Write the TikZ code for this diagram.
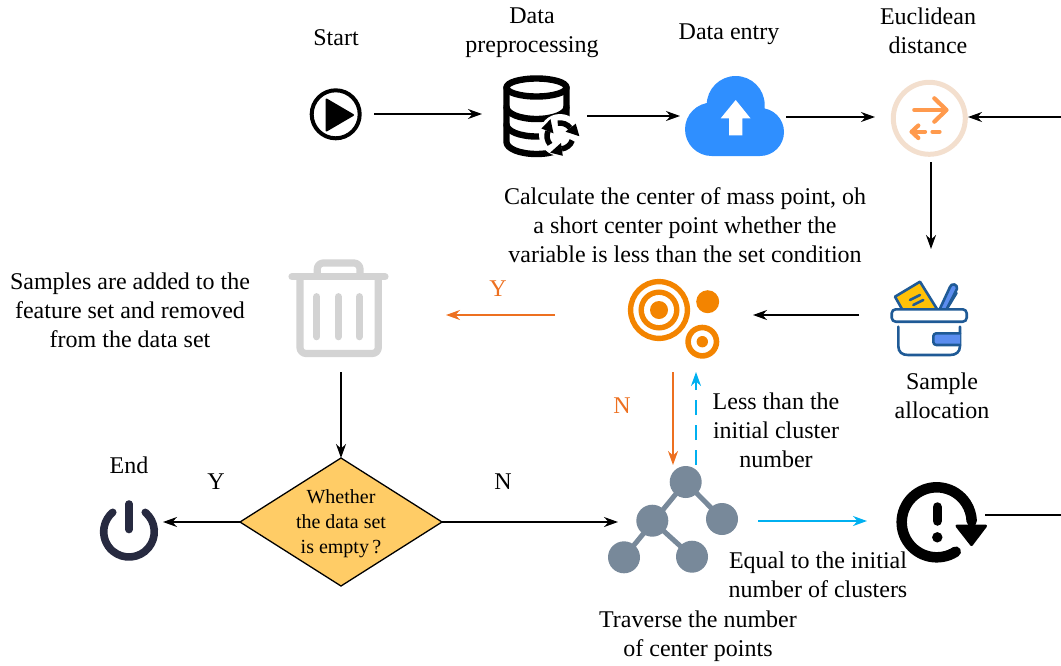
\documentclass[tikz,border=0pt]{standalone}
\usepackage{fontspec}
\setmainfont{Liberation Serif}
\usetikzlibrary{arrows.meta,shapes.geometric}
\definecolor{orgA}{HTML}{F38400}
\definecolor{orgB}{HTML}{ED7020}
\definecolor{orgC}{HTML}{FF9A4D}
\definecolor{skyb}{HTML}{00B0F0}
\definecolor{navy}{HTML}{1F5A96}
\definecolor{slate}{HTML}{78899A}
\definecolor{trashg}{HTML}{D3D3D3}
\definecolor{cloudb}{HTML}{2F8FFF}
\definecolor{dark}{HTML}{272A40}
\definecolor{decfill}{HTML}{FFCC66}
\definecolor{ringc}{HTML}{F3DFCE}
\definecolor{notey}{HTML}{FFC107}
\definecolor{tabb}{HTML}{5B8DEF}
\tikzset{
  hit/.style={inner sep=0pt,outer sep=0pt,minimum width=#1},
  lab/.style={align=center,font=\fontsize{24}{29}\selectfont,inner sep=0pt},
  arr/.style={line width=1.5pt,-{Stealth[length=14pt,width=10pt]}},
  carr/.style={line width=1.9pt,-{Stealth[length=14pt,width=10pt]}},
  plain/.style={line width=1.5pt},
  ico/.style={line cap=round,line join=round},
}
\begin{document}
\begin{tikzpicture}[x=1pt,y=-1pt]
\useasboundingbox (0,0) rectangle (1061,665);
% invisible placement nodes
\node[hit=76pt,minimum height=60pt] (start) at (336,114) {};
\node[hit=105pt,minimum height=90pt] (data) at (534.5,116) {};
\node[hit=106pt,minimum height=90pt] (cloud) at (733,117) {};
\node[hit=93pt,minimum height=90pt] (euclid) at (921.5,117) {};
\node[hit=144pt,minimum height=132pt] (sample) at (931,315) {};
\node[hit=198pt,minimum height=114pt] (target) at (654,315) {};
\node[hit=210pt,minimum height=114pt] (trash) at (341,315) {};
\node[hit=68pt,minimum height=60pt] (endi) at (129,522) {};
\node[hit=140pt,minimum height=112pt] (tree) at (688,521) {};
\node[hit=118pt,minimum height=60pt] (warn) at (926,515) {};
\coordinate (rightin) at (1061,117);
\coordinate (rightout) at (1061,515);
% decision
\node[diamond,draw=black,line width=1.3pt,fill=decfill,aspect=1.578,minimum width=202pt,minimum height=128pt,inner sep=0pt,outer sep=0pt] (dec) at (341,522) {};
\node[align=center,inner sep=0pt,font=\fontsize{20}{25}\selectfont] (dectext) at (341,523.5) {Whether\\the data set\\is empty\,?};
% start icon
\draw[line width=4pt] (335.7,114.3) circle[radius=24pt];
\fill[ico,draw=black,line width=2pt] (326.5,99.5) -- (353,115) -- (326.5,130.5) -- cycle;
% database icon
\begin{scope}[ico,line width=6.4pt]
\draw (536.5,87.5) ellipse[x radius=30pt,y radius=9pt];
\draw (506.5,87.5) -- (506.5,142) arc[start angle=180,end angle=360,x radius=30pt,y radius=12pt] -- (566.5,87.5);
\draw (506.5,107) arc[start angle=180,end angle=360,x radius=30pt,y radius=12pt];
\draw (506.5,124.5) arc[start angle=180,end angle=360,x radius=30pt,y radius=12pt];
\end{scope}
\fill[white] (560,135) circle[radius=21pt];
\foreach \a in {100,220,340}{
  \draw[line width=5.5pt] (560,136) ++(\a:13pt) arc[start angle=\a,end angle=\a-62,radius=13pt];
  \fill (560,136) ++(\a-62:7pt) -- ++(\a-62:13pt) -- ++(\a-62-112:13pt) -- cycle;
}
% cloud icon
\fill[cloudb] (711.7,129.3) circle[radius=26.7pt] (760,132) circle[radius=24pt] (735.7,105) circle[radius=29pt] (711.7,115) rectangle (760,156);
\fill[white] (735.7,100) -- (750.5,118.3) -- (742.3,118.3) -- (742.3,135.3) -- (729,135.3) -- (729,118.3) -- (720.7,118.3) -- cycle;
% euclid icon
\draw[line width=5pt,color=ringc] (929.3,118.3) circle[radius=36pt];
\begin{scope}[ico,draw=orgC,line width=4.2pt]
\draw (914.3,110) -- (946,110);
\draw (934.3,98.3) -- (946.5,110) -- (934.3,121.7);
\draw (911.7,131.7) -- (925,131.7);
\draw (918.3,125.5) -- (911.7,131.7) -- (918.3,138);
\draw (932.5,131.7) -- (939.5,131.7);
\end{scope}
% target icon
\draw[orgA,line width=5.4pt] (659,310) circle[radius=28.4pt] (659,310) circle[radius=17.8pt];
\fill[orgA] (659,310) circle[radius=9pt] (707.7,301.7) circle[radius=11.5pt] (702.3,341.7) circle[radius=5.7pt];
\draw[orgA,line width=5.6pt] (702.3,341.7) circle[radius=14.2pt];
% sample icon
\begin{scope}[ico,draw=navy,line width=2.6pt]
\draw[fill=notey] (901.7,308.5) -- (895,296.7) -- (920,281.7) -- (936.7,308.5);
\draw (910,300) -- (920,295) (913.3,305) -- (923.3,300);
\draw[fill=tabb] (940,308.5) -- (950,287) arc[start angle=165,end angle=-15,radius=3.6pt] -- (947,308.5);
\draw (956.5,293) -- (948,307);
\draw[fill=white,rounded corners=4pt] (891.7,309.3) rectangle (966.7,321.7);
\draw (898.3,326.7) -- (898.3,346) .. controls (898.3,352) and (902,355) .. (908,355) -- (950,355) .. controls (956,355) and (960,352) .. (960,346) -- (960,326.7);
\draw[fill=tabb,rounded corners=3pt] (960,333.3) -- (933.3,333.3) -- (933.3,345) -- (960,345);
\end{scope}
% trash icon
\begin{scope}[ico,draw=trashg,line width=7.2pt]
\draw (292,276.7) -- (385,276.7);
\draw[rounded corners=6pt] (317.3,274) -- (317.3,263) -- (360,263) -- (360,274);
\draw[rounded corners=6pt] (300,278) -- (300,353.5) -- (378.3,353.5) -- (378.3,278);
\draw (316.7,296.7) -- (316.7,336.7) (338.3,296.7) -- (338.3,336.7) (359.3,296.7) -- (359.3,336.7);
\end{scope}
% end icon
\begin{scope}[ico,draw=dark,line width=7.6pt]
\draw (129,531.7) ++(50:25.3pt) arc[start angle=50,end angle=-230,radius=25.3pt];
\draw (129,504) -- (129,529.5);
\end{scope}
% tree icon
\draw[slate,line width=5pt] (685.7,482) -- (624,557.3) (652.3,520.7) -- (692,556.7) (685.7,482) -- (722,519);
\fill[slate] (685.7,482) circle[radius=16pt] (652.3,520.7) circle[radius=16pt] (722,519) circle[radius=16pt] (624,557.3) circle[radius=16pt] (692,556.7) circle[radius=16pt];
% warning icon
\draw[line cap=round,line width=10.5pt] (936.7,522.3) ++(-57:35pt) arc[start angle=-57,end angle=-358,radius=35pt];
\fill[ico,draw=black,line width=3pt] (957,526) -- (985.5,526) -- (971.5,544.5) -- cycle;
\draw[line cap=round,line width=9.5pt] (937.3,507) -- (937.3,521);
\fill (937.3,537.3) circle[radius=5.2pt];
% connectors
\draw[arr] (start.east) -- (start.east -| data.west);
\draw[arr] (data.east) -- (data.east -| cloud.west);
\draw[arr] (cloud.east) -- (euclid.west);
\draw[arr] (rightin) -- (euclid.east);
\draw[arr] ([xshift=9.5pt]euclid.south) -- ([xshift=9.5pt]euclid.south |- sample.north);
\draw[arr] (sample.west) -- (target.east);
\draw[carr,orgB] (target.west) -- (trash.east);
\draw[arr] (trash.south) -- (dec.north);
\draw[arr] (dec.west) -- (dec.west -| endi.east);
\draw[arr] (dec.east) -- (dec.east -| tree.west);
\draw[carr,orgB] ([xshift=19pt]target.south) -- ([xshift=19pt]target.south |- tree.north);
\draw[carr,skyb,dash pattern=on 15pt off 10pt] ([xshift=8pt]tree.north) -- ([xshift=8pt]tree.north |- target.south);
\draw[carr,skyb] (tree.east) -- (tree.east -| warn.west);
\draw[plain] (warn.east) -- (rightout);
% labels
\node[lab] (lstart) at (336,37.5) {Start};
\node[lab] (ldata) at (532,33) {Data\\preprocessing};
\node[lab] (lentry) at (729,34) {Data entry};
\node[lab] (leuc) at (928,31) {Euclidean\\distance};
\node[lab] (lcalc) at (685,225) {Calculate the center of mass point, oh\\a short center point whether the\\variable is less than the set condition};
\node[lab] (lsamp) at (130,310) {Samples are added to the\\feature set and removed\\from the data set};
\node[lab,text=orgB] (ly1) at (498,289) {Y};
\node[lab,text=orgB] (ln1) at (622,406) {N};
\node[lab] (lless) at (776,430) {Less than the\\initial cluster\\number};
\node[lab] (lalloc) at (942,396) {Sample\\allocation};
\node[lab] (lend) at (129,465) {End};
\node[lab] (ly2) at (216,482) {Y};
\node[lab] (ln2) at (503,482) {N};
\node[lab] (lequal) at (818,575) {Equal to the initial\\number of clusters};
\node[lab] (ltrav) at (698,636) {Traverse the number\\of center points};
\end{tikzpicture}
\end{document}
